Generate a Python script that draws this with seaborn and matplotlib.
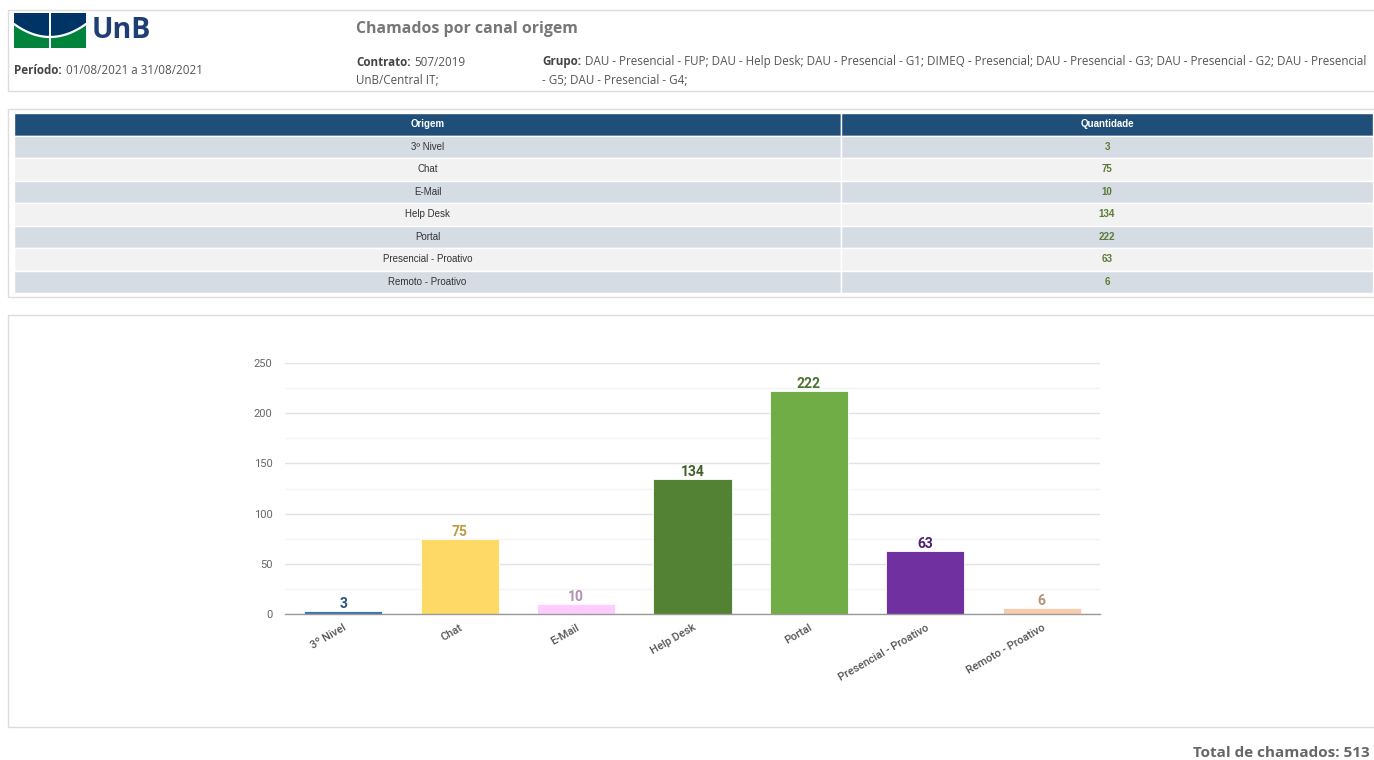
import numpy as np
import matplotlib
matplotlib.use('Agg')
import matplotlib.pyplot as plt
import seaborn as sns
from matplotlib.patches import Rectangle, Polygon

# dados do relatório
origens = ['3º Nivel', 'Chat', 'E-Mail', 'Help Desk', 'Portal',
           'Presencial - Proativo', 'Remoto - Proativo']
quantidades = [3, 75, 10, 134, 222, 63, 6]
cores_barras = ['#3A74B4', '#FFD966', '#FFCCFF', '#548235', '#70AD47', '#7030A0', '#F8CBAD']
cores_rotulos = ['#2C5282', '#BF9B45', '#B48EB4', '#3F6128', '#4B7332', '#4B2270', '#B39278']
y_ticks = [0, 50, 100, 150, 200, 250]

titulo = 'Chamados por canal origem'
periodo = '01/08/2021 a 31/08/2021'
contrato = '507/2019'
cliente = 'UnB/Central IT;'
grupo_l1 = ('DAU - Presencial - FUP; DAU - Help Desk; DAU - Presencial - G1; DIMEQ - Presencial; '
            'DAU - Presencial - G3; DAU - Presencial - G2; DAU - Presencial')
grupo_l2 = '- G5; DAU - Presencial - G4;'
colunas = ['Origem', 'Quantidade']

W, H = 1374, 760
sns.set_theme(style='white')
plt.rcParams['font.family'] = ['Open Sans', 'DejaVu Sans']

fig = plt.figure(figsize=(W / 100, H / 100), dpi=100)
fig.patch.set_facecolor('white')


def frac(x0, y0, x1, y1):
    """caixa em pixels (origem no topo) -> fração da figura"""
    return [x0 / W, 1 - y1 / H, (x1 - x0) / W, (y1 - y0) / H]


# 1. fundo com molduras e cabeçalho
bg = fig.add_axes([0, 0, 1, 1])
bg.set_xlim(0, W)
bg.set_ylim(H, 0)
bg.axis('off')

for y0, y1 in [(10, 91), (109, 297), (315, 727)]:
    bg.add_patch(Rectangle((8, y0), 1400, y1 - y0, fill=False, ec='#DCDCDC', lw=1))

# logo UnB
bg.add_patch(Rectangle((14, 13), 72, 35, fc='#00843D', ec='none'))
xs = np.linspace(14, 86, 40)
ys = 23 + 13 * (1 - ((xs - 50) / 36) ** 2)
bg.add_patch(Polygon([(14, 13), (86, 13)] + list(zip(xs[::-1], ys[::-1])), closed=True,
                     fc='#003366', ec='none'))
bg.plot(xs, ys + 1, color='white', lw=1.6)
bg.plot([50, 50], [13, 48], color='white', lw=1.4)
bg.text(92, 31, 'UnB', fontsize=20.5, fontweight='bold', color='#1F3E74', va='center')

FS = 8.4


def rotulo(x, y, negrito, resto):
    t = bg.text(x, y, negrito, fontsize=FS, fontweight='bold', color='#444444', va='center')
    bg.annotate(resto, xy=(1, 0.5), xycoords=t, xytext=(3, 0), textcoords='offset points',
                fontsize=FS, color='#555555', va='center')


bg.text(356, 29, titulo, fontsize=11.4, fontweight='bold', color='#777777', va='center')
rotulo(14, 71, 'Período:', periodo)
rotulo(356, 62, 'Contrato:', contrato)
bg.text(356, 80, cliente, fontsize=FS, color='#555555', va='center')
rotulo(542, 62, 'Grupo:', grupo_l1)
bg.text(542, 80, grupo_l2, fontsize=FS, color='#555555', va='center')

# total: no original fica cortado na borda, aqui mantido inteiro
bg.text(1370, 757, f'Total de chamados: {sum(quantidades)}', fontsize=11,
        fontweight='bold', color='#666666', va='baseline', ha='right')

# 2. tabela
tab_ax = fig.add_axes(frac(14, 113, 1373, 293))
tab_ax.axis('off')
linhas = [[o, str(q)] for o, q in zip(origens, quantidades)]
tabela = tab_ax.table(cellText=linhas, colLabels=colunas, cellLoc='center',
                      bbox=[0, 0, 1, 1], colWidths=[827, 532])
tabela.auto_set_font_size(False)
for (r, c), cell in tabela.get_celld().items():
    cell.set_edgecolor('white')
    cell.set_linewidth(1)
    txt = cell.get_text()
    txt.set_fontfamily(['Liberation Sans', 'DejaVu Sans'])
    txt.set_fontsize(7)
    if r == 0:
        cell.set_facecolor('#1F4E79')
        txt.set_color('white')
        txt.set_fontweight('bold')
    else:
        cell.set_facecolor('#D6DCE4' if r % 2 == 1 else '#F2F2F2')
        if c == 1:
            txt.set_color('#5A7A35')
            txt.set_fontweight('bold')
        else:
            txt.set_color('#333333')

# 3. gráfico de barras
ax = fig.add_axes(frac(285, 363, 1100, 614))
sns.barplot(x=origens, y=quantidades, hue=origens, palette=cores_barras, legend=False,
            width=0.67, saturation=1, edgecolor='white', linewidth=0.6, ax=ax)
ax.set_xlim(-0.5, len(origens) - 0.5)
ax.set_ylim(y_ticks[0], y_ticks[-1])
ax.set_yticks(y_ticks)
ax.set_yticks([t + 25 for t in y_ticks[:-1]], minor=True)
ax.grid(axis='y', which='major', color='#E3E3E3', lw=1)
ax.grid(axis='y', which='minor', color='#F4F4F4', lw=1)
ax.set_axisbelow(True)
for s in ['top', 'right', 'left']:
    ax.spines[s].set_visible(False)
ax.spines['bottom'].set_color('#9A9A9A')
ax.spines['bottom'].set_linewidth(1)
ax.set_facecolor('white')

ax.tick_params(axis='y', which='both', length=0, pad=9, labelsize=8, labelcolor='#666666')
ax.tick_params(axis='x', length=0, pad=6, labelsize=8, labelcolor='#555555')
for lbl in ax.get_yticklabels():
    lbl.set_fontfamily(['Roboto', 'DejaVu Sans'])
for lbl in ax.get_xticklabels():
    lbl.set_fontfamily(['Roboto', 'DejaVu Sans'])
    lbl.set_fontweight('medium')
    lbl.set_rotation(30)
    lbl.set_ha('right')
    lbl.set_rotation_mode('anchor')
ax.set_xlabel('')
ax.set_ylabel('')

for cont, cor in zip(ax.containers, cores_rotulos):
    ax.bar_label(cont, color=cor, fontsize=10, fontweight='bold', padding=0,
                 fontfamily=['Roboto', 'DejaVu Sans'])

fig.savefig('out.png', dpi=100)
